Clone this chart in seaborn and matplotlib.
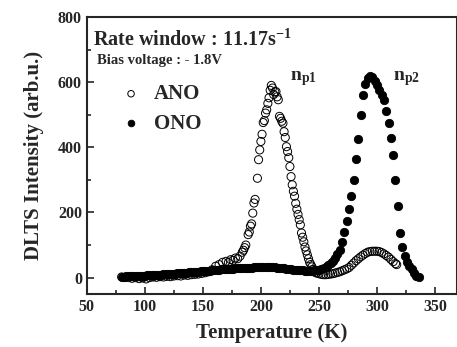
import numpy as np
import pandas as pd
import matplotlib
matplotlib.use('Agg')
import matplotlib.pyplot as plt
import seaborn as sns
from matplotlib.ticker import MultipleLocator

# DLTS spectra, rate window 11.17 s^-1, bias -1.8 V

# ANO (open circles)
ano_T = [80, 83, 86, 89, 92, 95, 98, 101, 104, 107, 110, 113, 116, 119, 122, 125, 128, 131, 134, 137,
         140, 143, 146, 149, 152, 155, 158, 161, 164, 167, 170, 172, 174, 176, 178, 180, 182, 184, 185, 186,
         187, 189, 190, 191, 192, 193, 194, 195, 197, 198, 199, 200, 201, 202, 203, 204, 205, 206, 207, 208,
         209, 210, 211, 212, 213, 214, 215, 216, 217, 218, 219, 220, 221, 222, 223, 224, 225, 226, 227, 228,
         229, 230, 231, 232, 233, 234, 235, 236, 237, 238, 239, 240, 241, 242, 243, 244, 245, 246, 247, 248,
         250, 252, 254, 256, 258, 260, 262, 264, 266, 268, 270, 272, 274, 276, 278, 280, 282, 284, 286, 288,
         290, 292, 294, 296, 298, 300, 302, 304, 306, 308, 310, 312, 314, 316, 317]
ano_I = [2, 1, 0, -2, 0, -3, -1, -4, 0, 2, 1, 3, 2, 4, 3, 5, 6, 5, 8, 7,
         9, 10, 11, 13, 15, 18, 24, 35, 40, 47, 50, 46, 55, 53, 60, 58, 66, 78, 84, 92,
         100, 132, 140, 158, 165, 198, 229, 240, 305, 362, 392, 418, 440, 476, 482, 505, 515, 535, 552, 575,
         590, 582, 562, 570, 571, 555, 546, 495, 489, 480, 474, 448, 430, 402, 387, 368, 341, 310, 285, 265,
         250, 228, 210, 194, 178, 162, 137, 124, 110, 94, 82, 70, 58, 47, 40, 33, 25, 20, 16, 14,
         12, 10, 9, 9, 10, 11, 12, 14, 16, 18, 21, 24, 27, 31, 38, 45, 52, 58, 64, 69,
         74, 78, 80, 81, 81, 81, 80, 77, 73, 68, 63, 56, 49, 43, 40]

# ONO (filled circles)
ono_T = list(range(80, 338, 2))
ono_I = [3, 3, 4, 4, 4, 5, 5, 5, 6, 6, 6, 7, 7, 7, 8, 8, 9, 9, 10, 10,
         11, 11, 12, 12, 13, 13, 14, 14, 15, 16, 16, 17, 17, 18, 19, 19, 20, 21, 21, 22,
         23, 23, 24, 25, 25, 26, 26, 27, 27, 28, 28, 29, 29, 30, 30, 31, 31, 32, 32, 32,
         33, 33, 33, 33, 33, 32, 32, 31, 30, 29, 28, 27, 26, 25, 24, 23, 23, 22, 22, 21,
         21, 21, 21, 22, 22, 24, 26, 29, 33, 38, 44, 52, 60, 72, 86, 108, 140, 175, 210, 250,
         300, 365, 425, 500, 560, 595, 612, 618, 616, 605, 590, 575, 560, 545, 510, 475, 430, 375, 300, 220,
         137, 95, 65, 48, 36, 25, 14, 5, 2]

ano = pd.DataFrame({'T': ano_T, 'I': ano_I})
ono = pd.DataFrame({'T': ono_T, 'I': ono_I})

sns.set_style('ticks')
plt.rcParams['font.family'] = ['Liberation Serif', 'DejaVu Serif']
plt.rcParams['font.weight'] = 'bold'
plt.rcParams['mathtext.fontset'] = 'custom'
plt.rcParams['mathtext.rm'] = 'Liberation Serif:bold'
plt.rcParams['mathtext.bf'] = 'Liberation Serif:bold'
plt.rcParams['mathtext.default'] = 'bf'

fig = plt.figure(figsize=(4.57, 3.47), dpi=100)
ax = fig.add_axes([0.19, 0.153, 0.81, 0.798])

sns.scatterplot(data=ono, x='T', y='I', ax=ax, color='black', s=36, marker='o',
                edgecolor='black', linewidth=0.6, label='ONO', zorder=2)
sns.scatterplot(data=ano, x='T', y='I', ax=ax, color='black', s=34, marker='o',
                facecolors='none', edgecolor='black', linewidth=0.7, label='ANO', zorder=3)

ax.set_xlim(50, 369)
ax.set_ylim(-50, 800)
ax.xaxis.set_major_locator(MultipleLocator(50))
ax.xaxis.set_minor_locator(MultipleLocator(25))
ax.yaxis.set_major_locator(MultipleLocator(200))
ax.yaxis.set_minor_locator(MultipleLocator(100))
ax.tick_params(which='both', direction='in', width=1.2, labelsize=11.5)
ax.tick_params(which='major', length=5)
ax.tick_params(which='minor', length=3)
for sp in ax.spines.values():
    sp.set_linewidth(1.5)
for lab in ax.get_xticklabels() + ax.get_yticklabels():
    lab.set_fontweight('bold')

ax.set_xlabel('Temperature (K)', fontsize=15, fontweight='bold', labelpad=6)
ax.set_ylabel('DLTS Intensity (arb.u.)', fontsize=15, fontweight='bold', labelpad=10)

ax.text(55, 729, r'Rate window : 11.17s$^{-1}$', fontsize=14.5, fontweight='bold', va='center')
ax.text(58.5, 665, 'Bias voltage : - 1.8V', fontsize=10.5, fontweight='bold', va='center')
ax.text(225, 610, r'n$_{\mathregular{p1}}$', fontsize=14, fontweight='bold', va='center')
ax.text(313.5, 610, r'n$_{\mathregular{p2}}$', fontsize=14, fontweight='bold', va='center')

h, l = ax.get_legend_handles_labels()
order = [l.index('ANO'), l.index('ONO')]
ax.legend([h[i] for i in order], [l[i] for i in order], loc='upper left',
          bbox_to_anchor=(0.035, 0.825), frameon=False, prop={'size': 15, 'weight': 'bold'},
          handletextpad=0.5, labelspacing=0.45, markerscale=0.8, handlelength=1.2)

fig.savefig('out.png', dpi=100)
